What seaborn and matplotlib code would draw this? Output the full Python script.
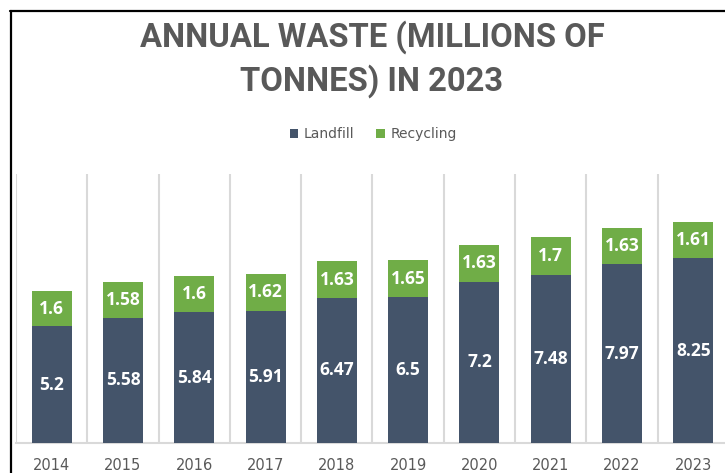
import matplotlib
matplotlib.use("Agg")
import matplotlib.pyplot as plt
from matplotlib.lines import Line2D
from matplotlib.patches import Patch
import seaborn as sns
import pandas as pd
import numpy as np

years = ["2014", "2015", "2016", "2017", "2018", "2019", "2020", "2021", "2022", "2023"]
landfill = [5.2, 5.58, 5.84, 5.91, 6.47, 6.5, 7.2, 7.48, 7.97, 8.25]
recycling = [1.6, 1.58, 1.6, 1.62, 1.63, 1.65, 1.63, 1.7, 1.63, 1.61]
series_names = ["Landfill", "Recycling"]
title_lines = ["ANNUAL WASTE (MILLIONS OF", "TONNES) IN 2023"]

NAVY = "#44546A"
GREEN = "#70AD47"
GRAY_TEXT = "#595959"
GRID = "#D9D9D9"

sns.set_theme(style="white")
plt.rcParams["font.family"] = ["DejaVu Sans"]

df = pd.DataFrame({"year": years, "landfill": landfill, "recycling": recycling})
df["total"] = df["landfill"] + df["recycling"]

fig = plt.figure(figsize=(7.25, 4.73), dpi=100)
W, H = 725, 473
ax = fig.add_axes([16 / W, (H - 443) / H, 713 / W, 269 / H])

sns.barplot(data=df, x="year", y="total", color=GREEN, saturation=1, width=0.56, ax=ax,
            zorder=3, linewidth=0, edgecolor="none")
sns.barplot(data=df, x="year", y="landfill", color=NAVY, saturation=1, width=0.56, ax=ax,
            zorder=3, linewidth=0, edgecolor="none")

ax.set_xlim(-0.5, len(years) - 0.5)
ax.set_ylim(0, 12)
ax.set_xlabel("")
ax.set_ylabel("")
ax.set_yticks([])
for s in ["top", "right", "left"]:
    ax.spines[s].set_visible(False)
ax.spines["bottom"].set_color(GRID)
ax.spines["bottom"].set_linewidth(1.5)

# vertical gridlines at category boundaries
ax.set_xticks(np.arange(len(years) + 1) - 0.5, minor=True)
ax.grid(True, which="minor", axis="x", color=GRID, linewidth=1.5, zorder=0)
ax.grid(False, which="major")
ax.tick_params(axis="x", which="both", length=0)
ax.tick_params(axis="x", which="major", pad=10.5, labelsize=10.5, labelcolor=GRAY_TEXT)

# labels
land_bars = ax.containers[1]
ax.bar_label(land_bars, labels=[f"{v:g}" for v in landfill], label_type="center",
             color="white", fontsize=12.5, family="Open Sans", fontweight="bold")
for rect, lv, rv in zip(land_bars, landfill, recycling):
    ax.text(rect.get_x() + rect.get_width() / 2, lv + rv / 2, f"{rv:g}",
            ha="center", va="center", color="white", fontsize=12.5,
            family="Open Sans", fontweight="bold", zorder=5)

# title
fig.text(372 / W, 1 - 47 / H, title_lines[0], ha="center", va="baseline",
         fontsize=23.6, fontweight="bold", family="Roboto", color=GRAY_TEXT)
fig.text(372 / W, 1 - 91 / H, title_lines[1], ha="center", va="baseline",
         fontsize=23.6, fontweight="bold", family="Roboto", color=GRAY_TEXT)

# legend
handles = [Patch(facecolor=NAVY, edgecolor="none"), Patch(facecolor=GREEN, edgecolor="none")]
fig.legend(handles, series_names, loc="center", bbox_to_anchor=(373 / W, 1 - 134 / H),
           ncol=2, frameon=False, handlelength=0.6, handleheight=0.6, handletextpad=0.4,
           columnspacing=1.6, prop={"size": 10}, labelcolor=GRAY_TEXT)

# border lines
fig.add_artist(Line2D([10 / W, 1], [1 - 11.5 / H, 1 - 11.5 / H], color="black", linewidth=1.6,
                      transform=fig.transFigure))
fig.add_artist(Line2D([11 / W, 11 / W], [0, 1 - 11.5 / H], color="black", linewidth=1.6,
                      transform=fig.transFigure))

fig.savefig("out.png", dpi=100)
